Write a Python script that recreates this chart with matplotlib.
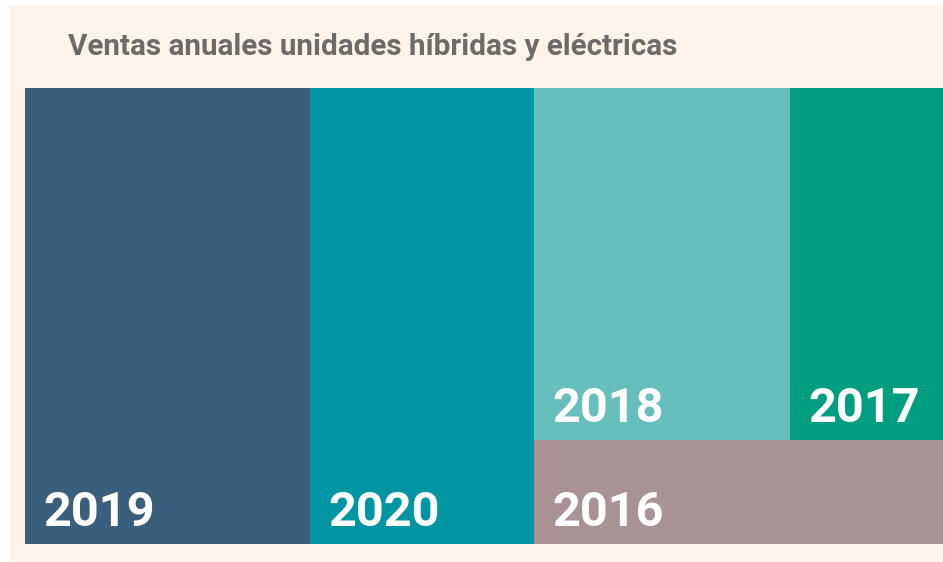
import matplotlib.pyplot as plt
from matplotlib.patches import Rectangle

# annual hybrid + electric units (relative, read from tile areas)
years = ["2019", "2020", "2018", "2017", "2016"]
values = [130.0, 102.1, 90.1, 53.9, 42.5]
colors = ["#3a5f7c", "#0095a3", "#66bfbd", "#009e80", "#a89293"]

# nested split: columns 2019 | 2020 | (2018,2017 over 2016)
layout_tree = [0, 1, [[2, 3], 4]]

title = "Ventas anuales unidades híbridas y eléctricas"
cream = "#fdf3e9"


def total(node):
    if isinstance(node, list):
        return sum(total(n) for n in node)
    return values[node]


def layout(node, x, y, w, h, horizontal, out):
    if not isinstance(node, list):
        out[node] = (x, y, w, h)
        return
    s = total(node)
    pos = 0.0
    for child in node:
        frac = total(child) / s
        if horizontal:
            layout(child, x + pos * w, y, frac * w, h, not horizontal, out)
        else:
            # top-down stacking
            layout(child, x, y + h - (pos + frac) * h, w, frac * h, not horizontal, out)
        pos += frac


def main():
    W, H = 943, 562
    fig = plt.figure(figsize=(W / 100, H / 100), dpi=100)
    fig.patch.set_facecolor("white")
    fig.patches.append(Rectangle((10 / W, 0), 1, (H - 6) / H, transform=fig.transFigure,
                                 facecolor=cream, edgecolor="none", zorder=-5))

    ax = fig.add_axes([25 / W, 18 / H, 918 / W, 456 / H])
    ax.set_zorder(2)
    ax.set_xlim(0, 1)
    ax.set_ylim(0, 1)
    ax.axis("off")

    rects = {}
    layout(layout_tree, 0, 0, 1, 1, True, rects)
    for i, (x, y, w, h) in rects.items():
        ax.add_patch(Rectangle((x, y), w, h, facecolor=colors[i], edgecolor="none"))
        ax.annotate(years[i], xy=(x, y), xytext=(18, 18), textcoords="offset pixels",
                    color="white", fontsize=35, fontweight="bold", family="Roboto",
                    ha="left", va="baseline")

    fig.text(68 / W, 1 - 55 / H, title, color="#6b6b6b", fontsize=21.3, fontweight="bold",
             family="Roboto", ha="left", va="baseline")

    fig.savefig("out.png", dpi=100, facecolor=fig.get_facecolor())


if __name__ == "__main__":
    main()
